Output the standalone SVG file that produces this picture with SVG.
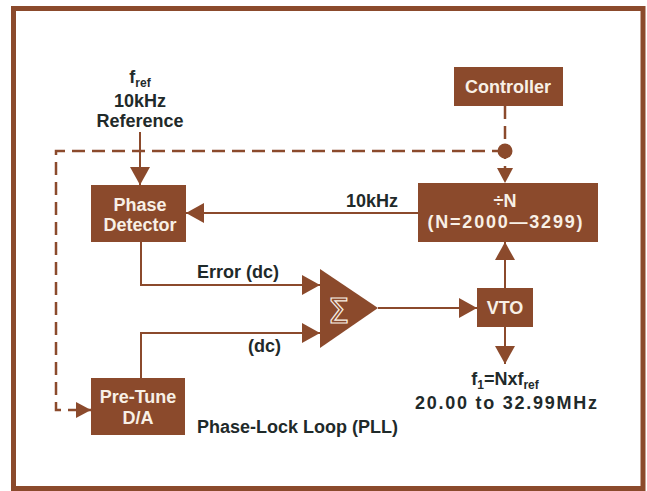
<svg xmlns="http://www.w3.org/2000/svg" width="647" height="491" viewBox="0 0 647 491">
<style>
.box{fill:#8b4a2c}
.bt{font-family:"Liberation Sans",Arial,sans-serif;font-weight:bold;font-size:18px;fill:#f8f0e6;text-anchor:middle}
.lbl{font-family:"Liberation Sans",Arial,sans-serif;font-weight:bold;font-size:18px;fill:#1f2a2a}
.ln{fill:none;stroke:#8b4a2c;stroke-width:2}
.dash{fill:none;stroke:#8b4a2c;stroke-width:2.5;stroke-dasharray:13 7}
</style>
<defs>
<marker id="ah" markerUnits="userSpaceOnUse" markerWidth="18" markerHeight="20" refX="18" refY="10" orient="auto">
<path d="M0,0 L18,10 L0,20 z" fill="#8b4a2c"/>
</marker>
<marker id="as" markerUnits="userSpaceOnUse" markerWidth="15" markerHeight="16" refX="15" refY="8" orient="auto">
<path d="M0,0 L15,8 L0,16 z" fill="#8b4a2c"/>
</marker>
</defs>
<rect x="0" y="0" width="647" height="491" fill="#ffffff"/>
<rect x="13.5" y="8.5" width="629.5" height="480" fill="none" stroke="#8b4a2c" stroke-width="5"/>

<g id="connectors">
<path class="ln" d="M140,132 V185" marker-end="url(#ah)"/>
<path class="dash" d="M505,106 V183" marker-end="url(#as)"/>
<path class="dash" d="M505,151 H56 V410 H91" marker-end="url(#as)"/>
<circle cx="505" cy="151" r="7.5" fill="#8b4a2c"/>
<path class="ln" d="M418,213 H186" marker-end="url(#ah)"/>
<path class="ln" d="M141,242 V285 H320" marker-end="url(#ah)"/>
<path class="ln" d="M141,378 V333 H320" marker-end="url(#ah)"/>
<path class="ln" d="M378,308 H477" marker-end="url(#ah)"/>
<path class="ln" d="M505,288 V242" marker-end="url(#ah)"/>
<path class="ln" d="M505,327 V364" marker-end="url(#ah)"/>
</g>

<g id="controller">
<rect class="box" x="454" y="67" width="109" height="39"/>
<text class="bt" x="508" y="93">Controller</text>
</g>

<g id="divider">
<rect class="box" x="418" y="183" width="180" height="59"/>
<text class="bt" x="505" y="207" font-size="19">÷N</text>
<text class="bt" x="505" y="228" font-size="19" textLength="155" lengthAdjust="spacing">(N=2000—3299)</text>
</g>

<g id="phase-detector">
<rect class="box" x="91" y="185" width="95" height="57"/>
<text class="bt" x="140" y="211">Phase</text>
<text class="bt" x="140" y="231">Detector</text>
</g>

<g id="pretune">
<rect class="box" x="91" y="378" width="94" height="57"/>
<text class="bt" x="138" y="403">Pre-Tune</text>
<text class="bt" x="138" y="424">D/A</text>
</g>

<g id="summer">
<path d="M320,269 L378,308 L320,348 z" fill="#8b4a2c"/>
<text x="338.5" y="323" font-family="DejaVu Sans,sans-serif" font-size="34" text-anchor="middle" fill="none" stroke="#f8f0e6" stroke-width="1.2">Σ</text>
</g>

<g id="vto">
<rect class="box" x="477" y="288" width="56" height="39"/>
<text class="bt" x="505" y="314">VTO</text>
</g>

<g id="labels">
<text class="lbl" x="140" y="83" text-anchor="middle">f<tspan font-size="12" dy="4">ref</tspan></text>
<text class="lbl" x="140" y="107" text-anchor="middle">10kHz</text>
<text class="lbl" x="140" y="127" text-anchor="middle">Reference</text>
<text class="lbl" x="398" y="207" text-anchor="end">10kHz</text>
<text class="lbl" x="197" y="278">Error (dc)</text>
<text class="lbl" x="248" y="352">(dc)</text>
<text class="lbl" x="197" y="433">Phase-Lock Loop (PLL)</text>
<text class="lbl" x="505" y="385" text-anchor="middle">f<tspan font-size="12" dy="4">1</tspan><tspan dy="-4">=Nxf</tspan><tspan font-size="12" dy="4">ref</tspan></text>
<text class="lbl" x="506" y="409" font-size="19.5" text-anchor="middle" textLength="182" lengthAdjust="spacing">20.00 to 32.99MHz</text>
</g>
</svg>
